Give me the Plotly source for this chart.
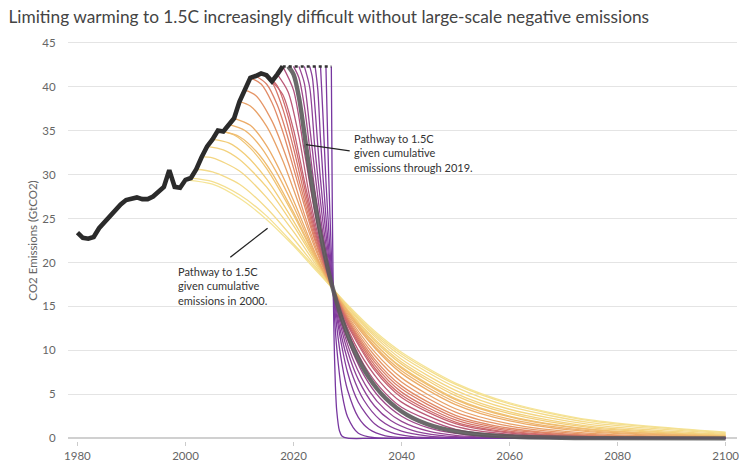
import plotly.graph_objects as go

# ---------------- data ----------------
hist_years = list(range(1980, 2019))
hist_values = [23.4, 22.8, 22.7, 22.9, 23.9, 24.6, 25.3, 26.0, 26.6, 27.1,
               27.3, 27.4, 27.2, 27.2, 27.5, 28.1, 28.6, 30.5, 28.6, 28.5,
               29.4, 29.6, 30.6, 32.0, 33.2, 34.0, 35.0, 34.9, 35.7, 36.4,
               38.3, 39.6, 41.0, 41.2, 41.5, 41.3, 40.6, 41.4, 42.3]

flat_years = [2018, 2027]
flat_values = [42.3, 42.3]

pathway_start_years = list(range(2000, 2028))
highlight_start_year = 2019

pathway_years = [
    [2000, 2005, 2010, 2015, 2020, 2024, 2027, 2030, 2035, 2040, 2050, 2060, 2075, 2100],
    [2001, 2005, 2010, 2015, 2020, 2024, 2027, 2030, 2035, 2040, 2050, 2060, 2075, 2100],
    [2002, 2005, 2010, 2015, 2020, 2024, 2027, 2030, 2035, 2040, 2050, 2060, 2075, 2100],
    [2003, 2005, 2010, 2015, 2020, 2024, 2027, 2030, 2035, 2040, 2050, 2060, 2075, 2100],
    [2004, 2007, 2010, 2015, 2020, 2024, 2027, 2030, 2035, 2040, 2050, 2060, 2075, 2100],
    [2005, 2008, 2011, 2015, 2020, 2024, 2027, 2030, 2035, 2040, 2050, 2060, 2075, 2100],
    [2006, 2009, 2012, 2015, 2020, 2024, 2027, 2030, 2035, 2040, 2050, 2060, 2075, 2100],
    [2007, 2010, 2013, 2016, 2020, 2024, 2027, 2030, 2035, 2040, 2050, 2060, 2075, 2100],
    [2008, 2011, 2014, 2017, 2020, 2024, 2027, 2030, 2035, 2040, 2050, 2060, 2075, 2100],
    [2009, 2012, 2015, 2018, 2021, 2024, 2027, 2030, 2035, 2040, 2050, 2060, 2075, 2100],
    [2010, 2012, 2015, 2018, 2021, 2024, 2027, 2030, 2035, 2040, 2050, 2060, 2075, 2100],
    [2011, 2013, 2016, 2019, 2022, 2025, 2027, 2030, 2035, 2040, 2050, 2060, 2075, 2100],
    [2012, 2014, 2016, 2018, 2021, 2024, 2027, 2030, 2035, 2040, 2050, 2060, 2075, 2100],
    [2013, 2015, 2017, 2019, 2021, 2024, 2027, 2030, 2035, 2040, 2050, 2060, 2075, 2100],
    [2014, 2016, 2018, 2020, 2022, 2024, 2027, 2030, 2035, 2040, 2050, 2060, 2075, 2100],
    [2015, 2017, 2019, 2021, 2023, 2025, 2027, 2030, 2035, 2040, 2050, 2060, 2075, 2100],
    [2016, 2018, 2020, 2022, 2024, 2026, 2028, 2030, 2035, 2040, 2050, 2060, 2075, 2100],
    [2017, 2019, 2021, 2023, 2025, 2027, 2029, 2032, 2036, 2040, 2050, 2060, 2075, 2100],
    [2018, 2020, 2022, 2024, 2026, 2028, 2030, 2033, 2036, 2040, 2050, 2060, 2075, 2100],
    [2019, 2020, 2021, 2023, 2025, 2027, 2029, 2031, 2034, 2037, 2041, 2046, 2052, 2060, 2075, 2100],
    [2020, 2021, 2022, 2024, 2026, 2028, 2030, 2033, 2036, 2040, 2045, 2050, 2060, 2080, 2100],
    [2021, 2022, 2023, 2025, 2027, 2029, 2031, 2034, 2037, 2040, 2045, 2050, 2060, 2100],
    [2022, 2023, 2024, 2026, 2028, 2030, 2032, 2035, 2038, 2042, 2047, 2055, 2070, 2100],
    [2023, 2023.5, 2024, 2025, 2027, 2029, 2031, 2033, 2036, 2040, 2045, 2050, 2060, 2100],
    [2024, 2024.5, 2025, 2026, 2027, 2028, 2030, 2032, 2035, 2038, 2042, 2048, 2060, 2100],
    [2025, 2025.5, 2026, 2027, 2028, 2029, 2030, 2032, 2034, 2037, 2041, 2048, 2060, 2100],
    [2026, 2026.25, 2026.5, 2027, 2027.5, 2028, 2029, 2030, 2032, 2035, 2040, 2060, 2100],
    [2027, 2027.15, 2027.3, 2027.5, 2027.75, 2028, 2028.5, 2029, 2030, 2035, 2100],
]

pathway_values = [
    [29.4, 28.9, 27.3, 24.9, 21.9, 19.2, 17.2, 15.2, 12.2, 9.8, 6.29, 4.05, 2.09, 0.70],
    [29.6, 29.2, 27.7, 25.3, 22.1, 19.4, 17.2, 15.1, 12.0, 9.6, 6.13, 3.91, 1.99, 0.65],
    [30.6, 30.3, 28.9, 26.2, 22.7, 19.6, 17.2, 15.0, 11.8, 9.33, 5.82, 3.63, 1.79, 0.55],
    [32.0, 31.9, 30.4, 27.4, 23.5, 19.9, 17.3, 14.9, 11.6, 9.0, 5.46, 3.31, 1.57, 0.45],
    [33.2, 32.8, 31.7, 28.6, 24.2, 20.2, 17.3, 14.7, 11.3, 8.69, 5.12, 3.01, 1.36, 0.36],
    [34.0, 33.6, 32.3, 29.5, 24.7, 20.4, 17.3, 14.6, 11.1, 8.44, 4.86, 2.80, 1.22, 0.31],
    [35.0, 34.5, 33.0, 30.7, 25.4, 20.6, 17.3, 14.5, 10.8, 8.10, 4.52, 2.53, 1.05, 0.25],
    [34.9, 34.3, 32.7, 30.2, 25.7, 20.7, 17.3, 14.5, 10.8, 7.98, 4.40, 2.43, 0.99, 0.22],
    [35.7, 35.0, 33.1, 30.1, 26.4, 20.9, 17.3, 14.4, 10.5, 7.68, 4.11, 2.19, 0.86, 0.18],
    [36.4, 35.6, 33.3, 29.8, 25.6, 21.1, 17.3, 14.2, 10.3, 7.39, 3.84, 1.99, 0.74, 0.14],
    [38.3, 37.8, 35.5, 31.6, 26.6, 21.6, 17.4, 14.0, 9.83, 6.88, 3.37, 1.65, 0.57, 0.09],
    [39.6, 39.0, 36.1, 31.4, 25.5, 20.3, 17.4, 13.8, 9.42, 6.42, 2.99, 1.39, 0.44, 0.06],
    [41.0, 40.3, 38.2, 34.9, 28.6, 22.4, 17.5, 13.6, 9.02, 5.97, 2.62, 1.15, 0.33, 0.04],
    [41.2, 40.3, 37.9, 34.1, 29.4, 22.7, 17.5, 13.5, 8.70, 5.63, 2.36, 0.99, 0.27, 0.03],
    [41.5, 40.5, 37.5, 33.0, 27.8, 23.1, 17.5, 13.3, 8.35, 5.26, 2.09, 0.83, 0.21, 0.02],
    [41.3, 40.1, 36.6, 31.4, 25.9, 21.3, 17.5, 13.1, 8.03, 4.93, 1.86, 0.70, 0.16, 0.01],
    [40.6, 39.1, 35.1, 29.3, 23.9, 19.4, 15.9, 12.9, 7.75, 4.65, 1.67, 0.60, 0.13, 0.01],
    [41.4, 39.4, 34.3, 27.4, 21.9, 17.5, 14.0, 10.0, 6.43, 4.12, 1.35, 0.44, 0.08, 0.0],
    [42.3, 39.6, 32.6, 25.5, 19.9, 15.6, 12.2, 8.40, 5.80, 3.54, 1.03, 0.30, 0.05, 0.0],
    [42.3, 41.4, 38.8, 30.4, 23.2, 17.7, 13.5, 10.3, 6.88, 4.59, 2.67, 1.36, 0.61, 0.21, 0.03, 0.0],
    [42.3, 41.0, 37.8, 28.0, 20.7, 15.3, 11.3, 7.22, 4.59, 2.52, 1.19, 0.56, 0.12, 0.0, 0.0],
    [42.3, 40.4, 35.4, 25.1, 17.9, 12.7, 9.01, 5.40, 3.24, 1.94, 0.82, 0.35, 0.06, 0.0],
    [42.3, 39.9, 32.7, 22.0, 14.8, 9.93, 6.68, 3.68, 2.03, 0.92, 0.34, 0.07, 0.0, 0.0],
    [42.3, 41.0, 37.4, 29.4, 18.3, 11.3, 7.03, 4.36, 2.13, 0.82, 0.25, 0.08, 0.01, 0.0],
    [42.3, 39.6, 34.0, 25.2, 18.6, 13.8, 7.52, 4.11, 1.66, 0.67, 0.20, 0.03, 0.0, 0.0],
    [42.3, 36.1, 29.3, 19.3, 12.7, 8.36, 5.50, 2.38, 1.03, 0.29, 0.06, 0.0, 0.0, 0.0],
    [42.3, 36.0, 30.1, 21.1, 14.7, 10.3, 5.04, 2.47, 0.59, 0.07, 0.0, 0.0, 0.0],
    [42.3, 28.6, 19.4, 11.5, 6.02, 3.14, 0.86, 0.23, 0.02, 0.0, 0.0],
]

x_tick_values = [1980, 2000, 2020, 2040, 2060, 2080, 2100]
y_tick_values = [0, 5, 10, 15, 20, 25, 30, 35, 40, 45]

title_text = "Limiting warming to 1.5C increasingly difficult without large-scale negative emissions"
y_title_text = "CO2 Emissions (GtCO2)"
note_2019 = "Pathway to 1.5C<br>given cumulative<br>emissions through 2019."
note_2000 = "Pathway to 1.5C<br>given cumulative<br>emissions in 2000."

# ---------------- style ----------------
FONT = "Lato, 'Open Sans', sans-serif"
color_anchors = [
    (2000, (245, 228, 150)),
    (2005, (242, 205, 120)),
    (2009, (236, 172, 104)),
    (2012, (225, 138, 102)),
    (2015, (207, 106, 106)),
    (2018, (176, 80, 126)),
    (2022, (142, 66, 152)),
    (2027, (118, 54, 160)),
]


def colour_for(year):
    for (y0, c0), (y1, c1) in zip(color_anchors[:-1], color_anchors[1:]):
        if y0 <= year <= y1:
            t = (year - y0) / (y1 - y0)
            rgb = [round(a + (b - a) * t) for a, b in zip(c0, c1)]
            return "rgb({},{},{})".format(*rgb)
    return "rgb(118,54,160)"


fig = go.Figure()

for s, xs, ys in zip(pathway_start_years, pathway_years, pathway_values):
    if s == highlight_start_year:
        continue
    fig.add_trace(go.Scatter(
        x=xs, y=ys, mode="lines",
        line=dict(color=colour_for(s), width=1.3, shape="spline", smoothing=0.8),
        hoverinfo="skip", showlegend=False))

# highlighted 2019 pathway
idx = pathway_start_years.index(highlight_start_year)
fig.add_trace(go.Scatter(
    x=pathway_years[idx], y=pathway_values[idx], mode="lines",
    line=dict(color="rgba(90,90,90,0.9)", width=4.4, shape="spline", smoothing=0.8),
    hoverinfo="skip", showlegend=False))

# flat continuation (dotted)
fig.add_trace(go.Scatter(
    x=flat_years, y=flat_values, mode="lines",
    line=dict(color="#333333", width=2.5, dash="dot"),
    hoverinfo="skip", showlegend=False))

# historical emissions
fig.add_trace(go.Scatter(
    x=hist_years, y=hist_values, mode="lines",
    line=dict(color="#2b2b2b", width=4.6),
    hoverinfo="skip", showlegend=False))

# annotations with pointer lines
fig.add_shape(type="line", x0=2022.3, y0=33.4, x1=2030.4, y1=32.7,
              line=dict(color="#222222", width=1.3))
fig.add_annotation(x=2030.9, y=32.4, text=note_2019, showarrow=False,
                   xanchor="left", yanchor="middle", align="left",
                   font=dict(family=FONT, size=11, color="#333333"))

fig.add_shape(type="line", x0=2008.3, y0=20.6, x1=2015.2, y1=23.9,
              line=dict(color="#222222", width=1.3))
fig.add_annotation(x=1998.2, y=17.3, text=note_2000, showarrow=False,
                   xanchor="left", yanchor="middle", align="left",
                   font=dict(family=FONT, size=11, color="#333333"))

fig.update_layout(
    width=739, height=462,
    margin=dict(l=68, r=0, t=40, b=20),
    paper_bgcolor="white", plot_bgcolor="white",
    font=dict(family=FONT, color="#555555"),
    title=dict(text=title_text, x=0.0115, xanchor="left", xref="container",
               y=0.963, yanchor="middle", yref="container",
               font=dict(family=FONT, size=17.3, color="#444444")),
    showlegend=False,
)

fig.update_xaxes(
    range=[1978.25, 2102.1], tickvals=x_tick_values,
    showgrid=False, zeroline=False, showline=False,
    ticks="outside", ticklen=4, tickcolor="#cccccc",
    ticklabeloverflow="allow",
    tickfont=dict(family=FONT, size=11.5, color="#666666"),
)
fig.update_yaxes(
    range=[-0.3, 45.3], tickvals=y_tick_values,
    showgrid=True, gridcolor="#e4e4e4", gridwidth=1,
    zeroline=True, zerolinecolor="#d0d0d0", zerolinewidth=2,
    ticks="outside", ticklen=9, tickcolor="rgba(0,0,0,0)",
    tickfont=dict(family=FONT, size=11.5, color="#666666"),
    title=dict(text=y_title_text, font=dict(family=FONT, size=11.5, color="#666666"), standoff=2),
)

# remove the default page margin so the figure fills the 739x462 window exactly
fig.write_html("out.html",
               config={"displayModeBar": False},
               post_script="document.body.style.margin='0px';"
                           "document.body.style.overflow='hidden';")
